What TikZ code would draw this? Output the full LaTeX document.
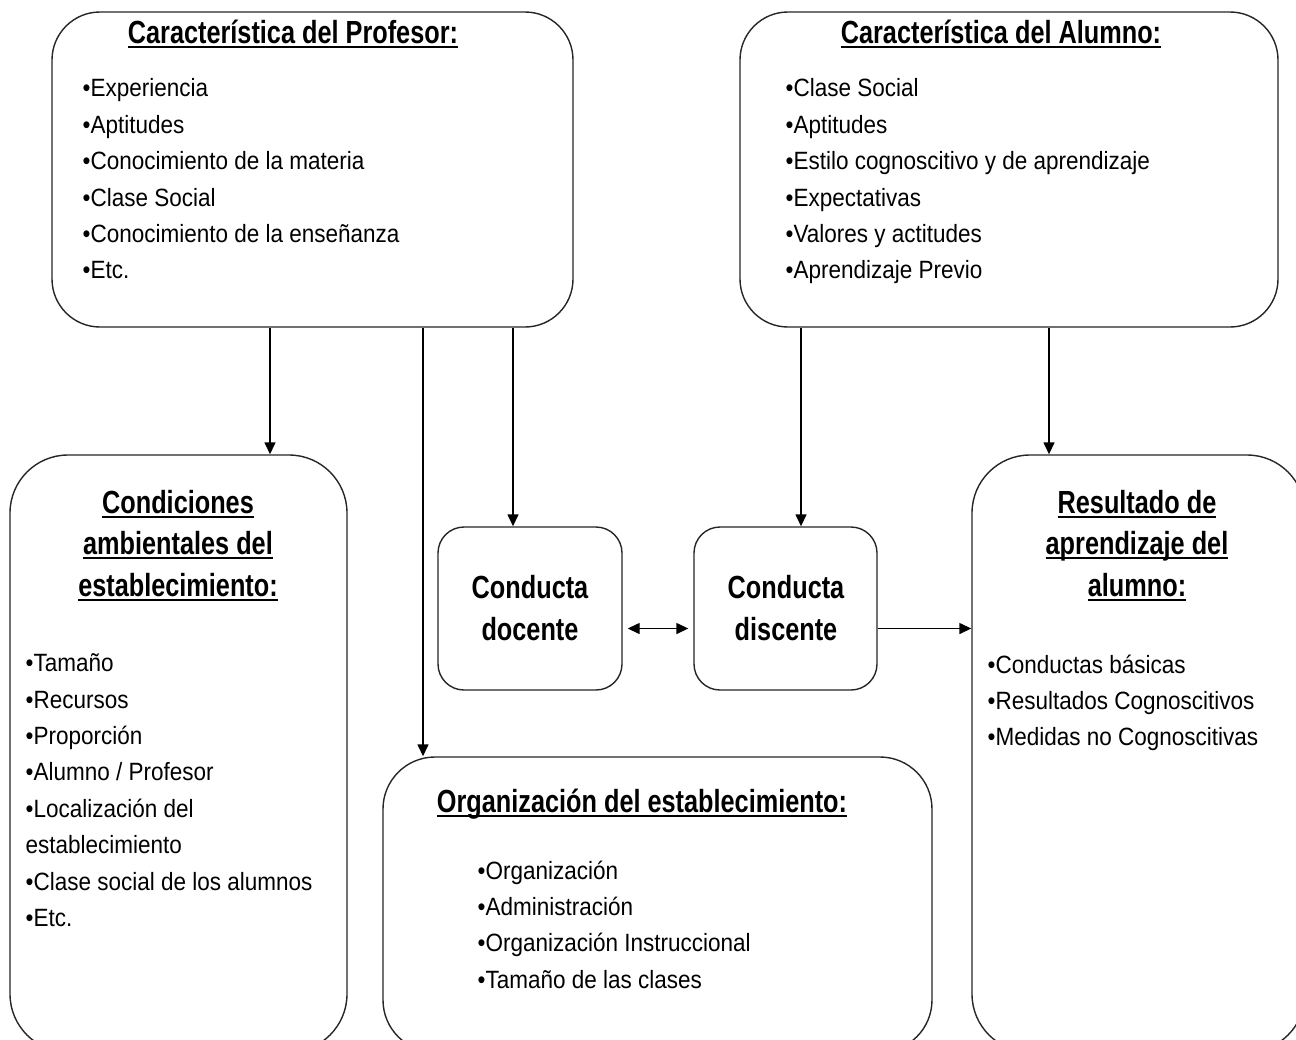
\documentclass[tikz,border=0pt]{standalone}
\usepackage{fontspec}
\usepackage{tikz}
\usetikzlibrary{arrows.meta,positioning}
\newfontfamily\cuerpo[FakeStretch=0.9]{Liberation Sans}
\newfontfamily\titulo[FakeStretch=0.79]{Liberation Sans}
\newcommand{\subr}[1]{\leavevmode\setbox0\hbox{#1}\rlap{\rule[-4.5pt]{\wd0}{2pt}}\box0}

\begin{document}
\begin{tikzpicture}[->,>={Triangle[length=12pt,width=11pt]},x=1pt,y=-1pt,line width=1.4pt]

		\tikzstyle{caja}=[draw=black!85,fill=white,rectangle,inner sep=0pt]
		\tikzstyle{cabeza}=[font=\titulo\bfseries\fontsize{32}{41.5}\selectfont,align=center,anchor=base,inner sep=0pt]
		\tikzstyle{lista}=[font=\cuerpo\fontsize{25}{36.4}\selectfont,align=left,anchor=north west,inner sep=0pt]

		\useasboundingbox (0,0) rectangle (1296,1039);
		\clip (0,0) rectangle (1296,1039);

		\node[caja,rounded corners=48pt,minimum width=521pt,minimum height=315pt] (prof) at (312.5,169.5) {};
		\node[caja,rounded corners=48pt,minimum width=538pt,minimum height=315pt] (alum) at (1009,169.5) {};
		\node[caja,rounded corners=58pt,minimum width=337pt,minimum height=597pt] (cond) at (178.5,753.5) {};
		\node[caja,rounded corners=26pt,minimum width=184pt,minimum height=163pt] (doc) at (530,608.5) {};
		\node[caja,rounded corners=26pt,minimum width=183pt,minimum height=163pt] (dis) at (785.5,608.5) {};
		\node[caja,rounded corners=58pt,minimum width=333pt,minimum height=597pt] (res) at (1138.5,753.5) {};
		\node[caja,rounded corners=52pt,minimum width=549pt,minimum height=295pt] (org) at (657.5,904.5) {};

		\node[cabeza] (profT) at (293,43) {\subr{Característica del Profesor:}};
		\node[lista]  (profL) at (82,78)  {•Experiencia\\•Aptitudes\\•Conocimiento de la materia\\•Clase Social\\•Conocimiento de la enseñanza\\•Etc.};

		\node[cabeza] (alumT) at (1001,43) {\subr{Característica del Alumno:}};
		\node[lista]  (alumL) at (785,78)  {•Clase Social\\•Aptitudes\\•Estilo cognoscitivo y de aprendizaje\\•Expectativas\\•Valores y actitudes\\•Aprendizaje Previo};

		\node[cabeza] (condT) at (178,596) {\subr{Condiciones}\\\subr{ambientales del}\\\subr{establecimiento:}};
		\node[lista]  (condL) at (25,653)  {•Tamaño\\•Recursos\\•Proporción\\•Alumno / Profesor\\•Localización del\\establecimiento\\•Clase social de los alumnos\\•Etc.};

		\node[cabeza] (docT) at (530,640) {Conducta\\docente};
		\node[cabeza] (disT) at (786,640) {Conducta\\discente};

		\node[cabeza] (resT) at (1137,596) {\subr{Resultado de}\\\subr{aprendizaje del}\\\subr{alumno:}};
		\node[lista]  (resL) at (987,654)  {•Conductas básicas\\•Resultados Cognoscitivos\\•Medidas no Cognoscitivas};

		\node[cabeza] (orgT) at (642,812) {\subr{Organización del establecimiento:}};
		\node[lista]  (orgL) at (477,860) {•Organización\\•Administración\\•Organización Instruccional\\•Tamaño de las clases};

		\path 	(prof.south -| 270,0) edge (cond.north -| 270,0)
				(prof.south -| 423,0) edge (org.north -| 423,0)
				(prof.south -| 513,0) edge (doc.north -| 513,0)
				(alum.south -| 801,0) edge (dis.north -| 801,0)
				(alum.south -| 1049,0) edge (res.north -| 1049,0)
				([yshift=-20pt]doc.east) edge [<->,shorten <=5pt,shorten >=5pt] ([yshift=-20pt]dis.west)
				([yshift=-20pt]dis.east) edge (res.west |- 0,628.5);

	\end{tikzpicture}
\end{document}
